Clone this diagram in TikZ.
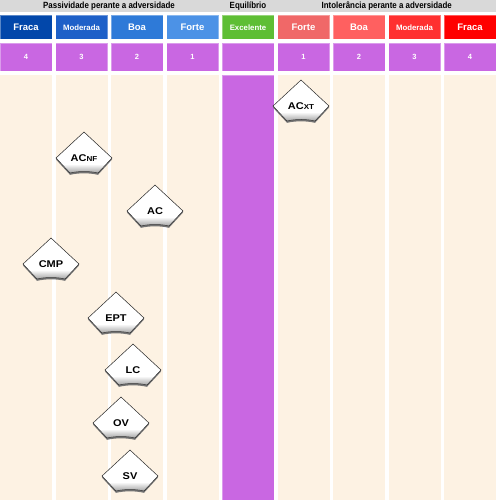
\documentclass[tikz,border=0pt]{standalone}
\usepackage{fontspec}
\setmainfont{Liberation Sans}
\newfontfamily\bandfont[FakeStretch=0.88]{Liberation Sans}
\newfontfamily\badgefont[FakeStretch=1.12]{Liberation Sans}
\usepackage{xcolor}
\usetikzlibrary{positioning}
\definecolor{pasfraca}{RGB}{2,71,170}
\definecolor{pasmod}{RGB}{30,96,200}
\definecolor{pasboa}{RGB}{46,122,216}
\definecolor{pasforte}{RGB}{76,146,230}
\definecolor{exgreen}{RGB}{94,190,52}
\definecolor{intforte}{RGB}{240,104,104}
\definecolor{intboa}{RGB}{255,96,96}
\definecolor{intmod}{RGB}{255,48,48}
\definecolor{intfraca}{RGB}{255,0,0}
\definecolor{lilac}{RGB}{201,103,226}
\definecolor{cream}{RGB}{253,242,227}
\definecolor{bandgray}{RGB}{217,217,217}
\newcommand\sm[1]{{\fontsize{7.2}{7}\selectfont #1}}

\begin{document}
\begin{tikzpicture}[x=1pt, y=-1pt,
    node distance=3.5pt and 3.5pt,
    cell/.style={rectangle, inner sep=0pt, outer sep=0pt, minimum width=52pt,
                 text=white, draw=white, draw opacity=0.35, line width=0.6pt,
                 font=\bfseries\fontsize{9.5}{10}\selectfont},
    hdr/.style={cell, minimum height=24pt},
    small/.style={font=\bfseries\fontsize{7.8}{8}\selectfont},
    num/.style={cell, minimum height=28.5pt, fill=lilac, font=\bfseries\fontsize{7.5}{8}\selectfont},
    body/.style={cell, minimum height=424.5pt, fill=cream, draw=none},
    band/.style={inner sep=0pt, font=\bandfont\bfseries\fontsize{9}{10}\selectfont},
    badgetext/.style={inner sep=0pt, text height=7pt, text depth=0pt,
                      font=\badgefont\bfseries\fontsize{9.8}{10}\selectfont},
    pics/badge/.style={code={
        \fill[black!55] (0,-24.5) -- (28,1.5) -- (14,16.8) .. controls (5,14.8) and (-5,14.8) .. (-14,16.8) -- (-28,1.5) -- cycle;
        \begin{scope}
          \clip (0,-26) -- (28,0) -- (14,15) .. controls (5,13) and (-5,13) .. (-14,15) -- (-28,0) -- cycle;
          \fill[white] (-30,-28) rectangle (30,18);
          \shade[top color=white, bottom color=black!40] (-30,6) rectangle (30,16);
        \end{scope}
        \draw[black!85, line width=0.5pt]
            (0,-26) -- (28,0) -- (14,15) .. controls (5,13) and (-5,13) .. (-14,15) -- (-28,0) -- cycle;
        \node[badgetext] (-txt) {#1};
    }}]
\useasboundingbox (0,0) rectangle (496,500);
% title band
\fill[bandgray] (0,0) rectangle (496,12.5);
\node[band] (tpas) at (109,6.5) {Passividade perante a adversidade};
\node[band] (teq) at (248,6.5) {Equilíbrio};
\node[band] (tint) at (386.75,6.5) {Intolerância perante a adversidade};
% header row
\node[hdr, fill=pasfraca, anchor=north west] (h1) at (0,15.5) {Fraca};
\node[hdr, fill=pasmod, small, right=of h1] (h2) {Moderada};
\node[hdr, fill=pasboa, right=of h2] (h3) {Boa};
\node[hdr, fill=pasforte, right=of h3] (h4) {Forte};
\node[hdr, fill=exgreen, small, right=of h4] (h5) {Excelente};
\node[hdr, fill=intforte, right=of h5] (h6) {Forte};
\node[hdr, fill=intboa, right=of h6] (h7) {Boa};
\node[hdr, fill=intmod, small, right=of h7] (h8) {Moderada};
\node[hdr, fill=intfraca, right=of h8] (h9) {Fraca};
% number row
\node[num, below=of h1] (n1) {4};
\node[num, below=of h2] (n2) {3};
\node[num, below=of h3] (n3) {2};
\node[num, below=of h4] (n4) {1};
\node[num, below=of h5] (n5) {};
\node[num, below=of h6] (n6) {1};
\node[num, below=of h7] (n7) {2};
\node[num, below=of h8] (n8) {3};
\node[num, below=of h9] (n9) {4};
% columns
\node[body, below=4pt of n1] (c1) {};
\node[body, below=4pt of n2] (c2) {};
\node[body, below=4pt of n3] (c3) {};
\node[body, below=4pt of n4] (c4) {};
\node[body, below=4pt of n5, fill=lilac, draw=white, draw opacity=0.35] (c5) {};
\node[body, below=4pt of n6] (c6) {};
\node[body, below=4pt of n7] (c7) {};
\node[body, below=4pt of n8] (c8) {};
\node[body, below=4pt of n9] (c9) {};
% badges
\pic (acxt) at (301,106) {badge={AC\sm{XT}}};
\pic (acnf) at (84,158) {badge={AC\sm{NF}}};
\pic (ac) at (155,211) {badge={AC}};
\pic (cmp) at (51,264) {badge={CMP}};
\pic (ept) at (116,318) {badge={EPT}};
\pic (lc) at (133,370) {badge={LC}};
\pic (ov) at (121,423) {badge={OV}};
\pic (sv) at (130,476) {badge={SV}};
\end{tikzpicture}
\end{document}
